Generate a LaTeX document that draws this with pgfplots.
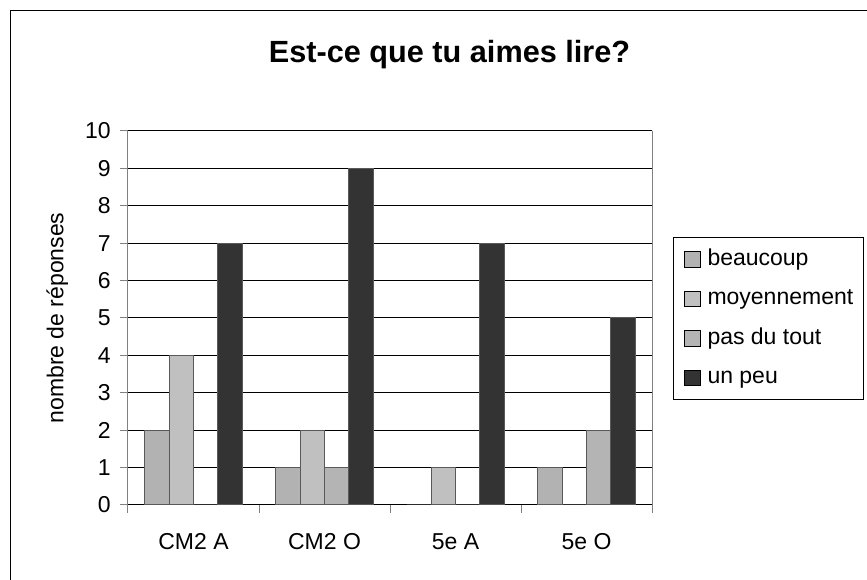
\documentclass[border=0pt]{standalone}
\usepackage{fontspec}
\setmainfont{Liberation Sans}
\usepackage{pgfplots}
\pgfplotsset{compat=1.18}
\definecolor{cbeau}{HTML}{B2B2B2}
\definecolor{cmoy}{HTML}{C0C0C0}
\definecolor{cpas}{HTML}{B4B4B4}
\definecolor{cpeu}{HTML}{333333}
\definecolor{axgray}{HTML}{808080}
\newcommand{\lbl}{\fontsize{17.25}{20}\selectfont}
\begin{document}
\begin{tikzpicture}[x=0.75pt,y=0.75pt]
\useasboundingbox (0,0) rectangle (867,580);
\draw[line width=0.75pt] (10,0) -- (10,569) -- (867,569);
\begin{axis}[
  at={(96pt,56.25pt)}, anchor=south west,
  width=393pt, height=280.5pt, scale only axis,
  ybar=0pt, bar width=18.2pt,
  xmin=-0.5, xmax=3.5, ymin=0, ymax=10,
  xtick={-0.5,0.5,1.5,2.5,3.5},
  x tick label as interval,
  xticklabels={CM2 A, CM2 O, 5e A, 5e O},
  ytick={0,1,...,10},
  /pgf/number format/assume math mode=true,
  tick align=outside, tick pos=left,
  major tick length=6pt,
  tick style={axgray, line width=0.75pt},
  ymajorgrids, grid style={black, line width=0.75pt},
  separate axis lines,
  x axis line style={black, line width=0.75pt},
  y axis line style={axgray, line width=0.75pt},
  xticklabel style={font=\lbl, anchor=center, yshift=-21.75pt},
  yticklabel style={font=\lbl, anchor=east, inner sep=0pt, xshift=-6.75pt},
  ylabel={nombre de réponses},
  ylabel style={at={(axis description cs:-0.135,0.5)}, anchor=center, font=\lbl},
  title={Est-ce que tu aimes lire?},
  title style={at={(axis description cs:0.6136,1.1612)}, anchor=base,
    font=\fontsize{23}{26}\selectfont\bfseries},
  legend style={at={(axis description cs:1,0.7166)}, anchor=north west,
    xshift=15.75pt, draw=black, line width=0.75pt,
    inner xsep=7.5pt, inner ysep=8.5pt, row sep=13.6pt,
    nodes={inner sep=0pt, text height=12.5pt, text depth=3.5pt, font=\lbl},
    /tikz/every odd column/.append style={column sep=5.25pt}},
  legend cell align=left,
  legend image code/.code={\draw[#1, draw=black, line width=0.75pt] (0pt,-5.8pt) rectangle (12pt,5.8pt);},
  every axis plot/.append style={draw=black!65, line width=0.75pt},
]
\addplot[fill=cbeau] coordinates {(0,2) (1,1) (2,0) (3,1)};
\addplot[fill=cmoy] coordinates {(0,4) (1,2) (2,1) (3,0)};
\addplot[fill=cpas] coordinates {(0,0) (1,1) (2,0) (3,2)};
\addplot[fill=cpeu] coordinates {(0,7) (1,9) (2,7) (3,5)};
\legend{beaucoup, moyennement, pas du tout, un peu}
\end{axis}
\end{tikzpicture}
\end{document}
